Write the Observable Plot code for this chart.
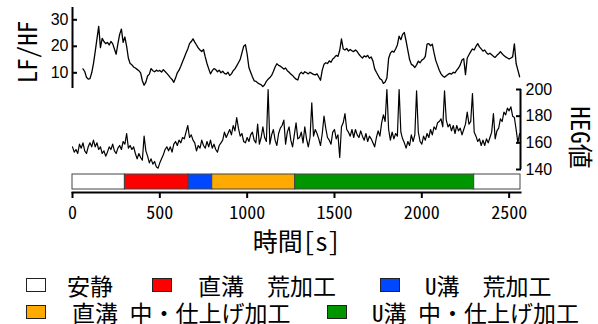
<!DOCTYPE html>
<html><head><meta charset="utf-8">
<script src="https://cdn.jsdelivr.net/npm/d3@7"></script>
<script src="https://cdn.jsdelivr.net/npm/@observablehq/plot@0.6"></script>
<style>
body{margin:0;background:#fff;}
#wrap{position:relative;width:598px;height:324px;overflow:hidden;background:#fff;}
#wrap svg{position:absolute;left:0;top:0;background:transparent;}
.leg{position:absolute;font-family:"Noto Sans Mono CJK JP","Noto Sans CJK JP",sans-serif;font-size:23px;line-height:22px;white-space:pre;color:#000;}
.sw{position:absolute;width:20px;height:14px;box-sizing:border-box;border:1px solid #222;}
</style></head><body><div id="wrap"></div>
<script>
// ---- data ----
const lfhfStart = 60, lfhfStep = 10;
const lfhfValues = [
11.5, 10.5, 8.3, 7.6, 7.8, 10.0, 13.5, 18.0, 22.8, 27.5,
19.5, 23.0, 21.8, 21.0, 21.5, 20.5, 21.8, 21.0, 19.0, 17.0,
21.0, 24.5, 26.5, 21.5, 23.5, 20.0, 15.5, 13.5, 13.0, 12.2,
11.8, 11.3, 10.8, 10.0, 7.0, 5.3, 6.5, 8.8, 9.5, 11.6,
10.8, 10.4, 11.0, 10.6, 10.9, 10.3, 11.2, 10.5, 9.8, 9.0,
8.2, 7.5, 6.4, 8.0, 10.0, 11.0, 12.5, 14.2, 15.8, 17.5,
19.0, 21.0, 21.8, 22.8, 21.6, 20.5, 19.4, 18.6, 18.0, 18.8,
16.0, 13.5, 11.5, 9.6, 10.8, 11.6, 11.2, 10.4, 11.0, 10.0,
10.6, 9.8, 9.5, 10.2, 9.0, 9.6, 10.8, 11.5, 12.6, 13.8,
15.0, 17.5, 20.0, 20.6, 17.0, 12.0, 10.2, 8.5, 7.0, 6.8,
6.2, 5.8, 5.5, 4.8, 5.5, 6.8, 7.6, 8.2, 9.0, 10.5,
12.2, 13.4, 12.8, 12.5, 12.0, 11.4, 11.8, 10.8, 10.2, 9.5,
9.0, 8.2, 7.6, 7.3, 9.5, 10.2, 9.6, 10.4, 10.0, 9.6,
10.2, 9.8, 9.4, 9.2, 9.6, 8.4, 7.2, 11.0, 13.2, 13.8,
13.5, 14.5, 14.0, 15.2, 15.8, 16.6, 16.2, 18.5, 22.8, 19.0,
18.6, 19.2, 18.2, 18.8, 18.3, 18.0, 18.6, 18.0, 17.0, 16.2,
15.6, 16.4, 16.0, 16.6, 15.5, 16.0, 14.5, 11.5, 10.2, 9.0,
7.8, 7.4, 6.0, 6.5, 8.0, 15.5, 17.4, 18.2, 17.8, 19.0,
20.5, 23.8, 22.5, 24.5, 25.2, 22.0, 18.5, 15.0, 13.2, 12.8,
12.0, 13.0, 14.4, 13.8, 14.8, 15.2, 16.2, 20.8, 21.0, 20.2,
20.8, 17.5, 14.6, 12.8, 11.0, 9.6, 8.8, 8.3, 8.9, 9.4,
9.8, 9.5, 10.2, 10.0, 11.0, 11.8, 13.0, 14.8, 15.3, 9.3,
15.6, 16.8, 18.0, 19.0, 18.6, 20.0, 21.0, 19.8, 19.0, 18.2,
18.6, 17.6, 17.0, 17.4, 16.8, 16.2, 15.8, 16.6, 17.2, 18.0,
17.2, 16.5, 16.0, 15.6, 15.2, 15.6, 16.0, 20.9, 13.5, 11.0,
8.5
];
const hegStart = 0, hegStep = 10;
const hegValues = [
157, 153, 155, 152, 159, 156, 160, 154, 152, 157,
160, 157, 162, 157, 160, 155, 157, 152, 154, 150,
153, 157, 155, 159, 154, 152, 156, 158, 155, 161,
159, 167, 156, 158, 155, 157, 152, 148, 152, 149,
147, 165, 154, 150, 145, 148, 144, 146, 142, 141,
145, 148, 151, 155, 157, 154, 157, 153, 159, 161,
158, 162, 160, 164, 163, 168, 173, 164, 166, 162,
160, 154, 158, 156, 162, 158, 156, 161, 157, 162,
156, 159, 155, 153, 158, 160, 162, 168, 164, 167,
170, 166, 173, 169, 179, 171, 165, 167, 161, 160,
164, 161, 166, 168, 162, 160, 174, 159, 164, 172,
164, 161, 200, 159, 166, 170, 162, 158, 167, 171,
173, 177, 159, 168, 172, 162, 157, 166, 175, 163,
164, 168, 160, 172, 163, 157, 164, 190, 165, 170,
167, 163, 158, 167, 180, 171, 164, 162, 159, 168,
170, 163, 166, 149, 172, 175, 182, 170, 168, 165,
170, 164, 170, 166, 164, 169, 165, 162, 167, 161,
165, 163, 160, 157, 164, 169, 165, 175, 181, 176,
200, 170, 162, 168, 163, 167, 165, 200, 168, 163,
160, 156, 161, 158, 166, 161, 166, 199, 168, 161,
159, 165, 162, 167, 164, 170, 166, 172, 170, 175,
176, 178, 172, 199, 177, 172, 174, 169, 173, 167,
173, 169, 171, 166, 170, 174, 183, 174, 176, 197,
168, 165, 161, 163, 158, 162, 158, 163, 160, 164,
168, 182, 163, 169, 171, 178, 176, 183, 181, 186,
184, 187, 180, 179, 170, 160,
167
];
const phaseNames = ["安静", "直溝 荒加工", "U溝 荒加工", "直溝 中・仕上げ加工", "U溝 中・仕上げ加工"];
const segPhase = ["安静", "直溝 荒加工", "U溝 荒加工", "直溝 中・仕上げ加工", "U溝 中・仕上げ加工", "安静"];
const segStart = [0, 300, 665, 800, 1275, 2300];
const segEnd = [300, 665, 800, 1275, 2300, 2565];
const xTicks = [0, 500, 1000, 1500, 2000, 2500];
const lfTicks = [10, 20, 30];
const hegTicks = [140, 160, 180, 200];
const legendLabels = ["安静", "直溝　荒加工", "U溝　荒加工", "直溝 中・仕上げ加工", "U溝 中・仕上げ加工"];

// ---- styles / layout ----
const phaseColors = ["#ffffff", "#ff0000", "#0048ff", "#ffaa00", "#009600"];
const W = 598, H = 270;
const xDomain = [0, 2565];
const lfDomain = [4.08, 34.64];
const hegDomain = [140, 200];
const fontLatin = "'Liberation Sans', Arial, sans-serif";
const fontJP = "'Noto Sans Mono CJK JP','Noto Sans CJK JP',sans-serif";

const lfhf = lfhfValues.map((v, i) => ({t: lfhfStart + i * lfhfStep, v}));
const heg = hegValues.map((v, i) => ({t: hegStart + i * hegStep, v}));
const segments = segStart.map((s, i) => ({start: s, end: segEnd[i], phase: segPhase[i]}));

const common = {width: W, height: H, marginLeft: 72, marginRight: 78,
  style: {fontFamily: fontLatin, background: "transparent", color: "#000", overflow: "visible"}};

const plotA = Plot.plot({...common, marginTop: 7, marginBottom: H - 88,
  x: {domain: xDomain, axis: null}, y: {domain: lfDomain},
  marks: [
    Plot.ruleX([xDomain[0]], {y1: lfDomain[0], y2: lfDomain[1], strokeWidth: 2}),
    Plot.axisY({ticks: lfTicks, tickSize: -5, tickPadding: 9, strokeWidth: 2, fontSize: 16, label: null}),
    Plot.line(lfhf, {x: "t", y: "v", strokeWidth: 1.3, stroke: "#000"}),
    Plot.text(["LF/HF"], {frameAnchor: "left", textAnchor: "middle", lineAnchor: "middle", rotate: -90, dx: -44, dy: 4, fontSize: 25, fontFamily: fontJP})
  ]});

const plotB = Plot.plot({...common, marginTop: 89, marginBottom: H - 169,
  x: {domain: xDomain, axis: null}, y: {domain: hegDomain},
  marks: [
    Plot.ruleX([xDomain[1]], {y1: hegDomain[0], y2: hegDomain[1], strokeWidth: 2}),
    Plot.axisY({anchor: "right", ticks: hegTicks, tickSize: -5, tickPadding: 10, strokeWidth: 2, fontSize: 16, label: null}),
    Plot.line(heg, {x: "t", y: "v", strokeWidth: 1.2, stroke: "#000"}),
    Plot.text(["HEG値"], {frameAnchor: "right", textAnchor: "middle", lineAnchor: "middle", rotate: 90, dx: 58, dy: 8, fontSize: 25, fontFamily: fontJP})
  ]});

const plotC = Plot.plot({...common, marginTop: 174, marginBottom: H - 192,
  x: {domain: xDomain},
  color: {domain: phaseNames, range: phaseColors},
  marks: [
    Plot.barX(segments, {x1: "start", x2: "end", fill: "phase", stroke: "#444", strokeWidth: 1, insetBottom: 3}),
    Plot.frame({anchor: "bottom", strokeWidth: 2}),
    Plot.axisX({ticks: xTicks, tickFormat: d3.format("d"), tickSize: 6, tickPadding: 8, strokeWidth: 2, fontSize: 18, fontFamily: fontJP, label: null}),
    Plot.text(["時間[s]"], {frameAnchor: "bottom", textAnchor: "middle", lineAnchor: "middle", dy: 50, fontSize: 25, fontFamily: fontJP})
  ]});

const wrap = document.getElementById("wrap");
[plotA, plotB, plotC].forEach(p => wrap.appendChild(p));

// legend (HTML, below the plots)
const legendLayout = [
  {sx: 26, tx: 67, cy: 285},
  {sx: 152, tx: 198, cy: 285},
  {sx: 380, tx: 425, cy: 285},
  {sx: 26, tx: 72, cy: 311.5},
  {sx: 327, tx: 372, cy: 311.5}
];
legendLabels.forEach((lab, i) => {
  const L = legendLayout[i];
  const sw = document.createElement("div");
  sw.className = "sw";
  sw.style.left = L.sx + "px";
  sw.style.top = (L.cy - 7) + "px";
  sw.style.background = phaseColors[i];
  wrap.appendChild(sw);
  const tx = document.createElement("div");
  tx.className = "leg";
  tx.style.left = L.tx + "px";
  tx.style.top = (L.cy - 11) + "px";
  tx.textContent = lab;
  wrap.appendChild(tx);
});
</script>
</body></html>
